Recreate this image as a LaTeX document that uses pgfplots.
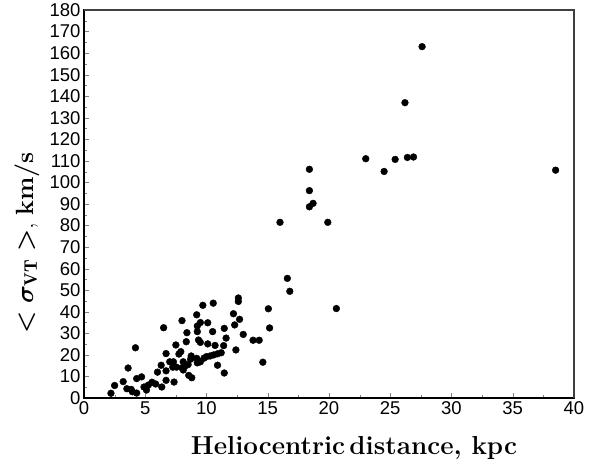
\documentclass[border=0pt]{standalone}
\usepackage{pgfplots}
\pgfplotsset{compat=1.18}
\usepackage{fontspec}
\newfontfamily\arial{Liberation Sans}
\begin{document}
\begin{tikzpicture}
\begin{axis}[
  name=ax,
  scale only axis, width=490pt, height=388pt,
  xmin=0, xmax=40, ymin=0, ymax=180,
  xtick={0,5,...,40}, ytick={0,10,...,180},
  minor x tick num=1, minor y tick num=1,
  xtick pos=bottom, ytick pos=left,
  axis line style={line width=1.1pt},
  tick align=inside, major tick length=5pt, minor tick length=3pt,
  /pgf/number format/assume math mode=true,
  tick label style={font=\fontsize{18.5}{18.5}\selectfont\arial},
]
\addplot[only marks, mark=*, mark size=3.4pt, black] coordinates {
(2.2,2.2) (2.5,5.8) (3.2,7.6) (3.6,13.9) (3.5,4.3) (3.85,4.0) (3.95,2.9)
(4.3,2.3) (4.2,23.3) (4.3,9.0) (4.7,9.8) (4.9,5.1) (5.1,3.7) (5.25,6.0)
(5.55,7.3) (5.85,6.5) (6.0,12.0) (6.3,15.2) (6.35,5.1) (6.5,32.6) (6.7,20.6)
(6.7,12.6) (6.7,8.2) (7.0,16.8) (7.3,16.8) (7.35,7.4) (7.25,14.3) (7.55,14.3)
(7.5,24.6) (7.75,20.4) (8.0,35.9) (8.1,16.8) (8.1,13.0) (8.35,26.1) (8.4,30.3)
(8.25,14.8) (8.55,10.5) (8.7,18.0) (8.8,9.4) (8.75,19.5) (9.2,38.6) (9.25,33.4)
(9.25,30.8) (9.35,26.9) (9.2,18.4) (9.25,16.3) (9.7,43.0) (10.1,34.9) (10.1,25.1)
(10.55,44.0) (10.5,30.8) (10.7,24.4) (10.9,15.2) (11.45,32.3) (11.6,27.8)
(11.45,11.6) (11.4,24.3) (9.5,25.8) (9.5,35.0) (9.5,16.8) (9.8,18.5) (10.0,19.2)
(10.3,19.5) (10.6,20.0) (10.9,20.5) (11.2,21.0) (7.9,21.5) (8.0,14.0) (8.5,15.5)
(12.2,39.1) (12.7,36.5) (12.6,46.4) (12.6,44.8) (12.3,33.9) (12.4,22.3)
(13.0,29.5) (13.8,26.8) (14.3,26.8) (14.6,16.6) (15.05,41.4) (15.15,32.5)
(16.6,55.5) (16.8,49.5) (16.0,81.5) (18.4,106.1) (18.4,96.2) (18.4,88.7)
(18.7,90.3) (19.9,81.5) (20.6,41.5) (23.0,111.0) (24.5,105.1) (25.4,110.7)
(26.2,137.0) (26.4,111.6) (26.9,111.8) (27.6,163.0) (38.5,105.7)
};
\end{axis}
\draw[black!75, line width=1.8pt] (ax.north west) -- (ax.north east) -- (ax.south east);
\node[anchor=center, font=\fontsize{26}{26}\selectfont\bfseries] at (270pt,-50pt) {Heliocentric\,distance, kpc};
\node[anchor=center, rotate=90, font=\fontsize{26}{26}\selectfont\boldmath] at (-57pt,155pt) {$<\sigma_{\mathrm{VT}}>$, $\mathbf{km/s}$};
\pgfresetboundingbox
\useasboundingbox (-84pt,-71pt) rectangle (510pt,398pt);
\end{tikzpicture}
\end{document}
